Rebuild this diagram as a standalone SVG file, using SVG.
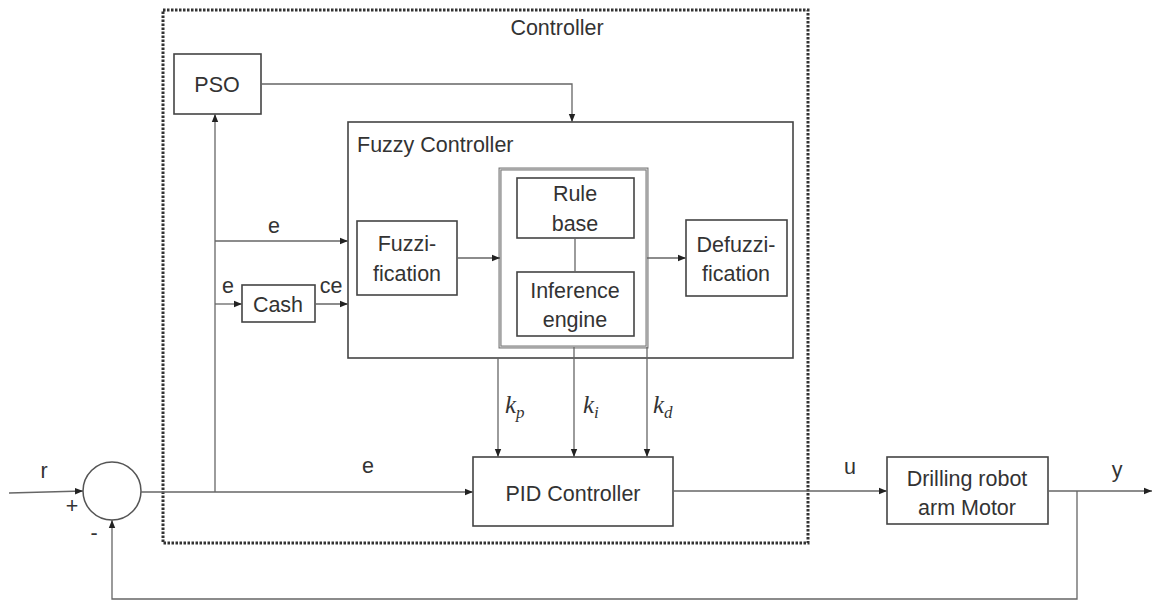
<svg xmlns="http://www.w3.org/2000/svg" width="1156" height="601" viewBox="0 0 1156 601">
<style>
text{font-family:"Liberation Sans",Arial,sans-serif;font-size:21.5px;fill:#333}
.c{text-anchor:middle}
.box{fill:#fff;stroke:#444;stroke-width:1.6}
.ln{fill:none;stroke:#666;stroke-width:1.3}
.m{font-family:"Liberation Serif","DejaVu Serif",serif;font-style:italic;font-size:25px}
.sub{font-size:17px}
</style>
<defs>
<marker id="ah" markerUnits="userSpaceOnUse" markerWidth="8" markerHeight="8" refX="8" refY="4" orient="auto">
<path d="M0,0.8 L8,4 L0,7.2 z" fill="#222"/>
</marker>
</defs>
<rect width="1156" height="601" fill="#fff"/>

<g id="controller">
<rect x="163" y="10" width="645" height="533" fill="none" stroke="#333" stroke-width="3" stroke-dasharray="2.5 1.5"/>
<text class="c" x="557" y="35">Controller</text>
</g>

<g id="pso">
<rect class="box" x="174" y="54" width="87" height="60"/>
<text class="c" x="217" y="92">PSO</text>
</g>

<g id="fuzzy-controller">
<rect class="box" x="348" y="122" width="445" height="236"/>
<text x="357" y="152">Fuzzy Controller</text>
</g>

<g id="fuzzification">
<rect class="box" x="357" y="221" width="100" height="74"/>
<text class="c" x="407" y="251">Fuzzi-</text>
<text class="c" x="407" y="281">fication</text>
</g>

<g id="inference-block">
<rect x="500" y="169" width="147" height="178" fill="none" stroke="#777" stroke-width="3"/>
<rect x="500" y="169" width="147" height="178" fill="none" stroke="#eee" stroke-width="0.8"/>
</g>

<g id="rule-base">
<rect class="box" x="517" y="178" width="117" height="60"/>
<text class="c" x="575" y="201">Rule</text>
<text class="c" x="575" y="231">base</text>
</g>

<g id="inference-engine">
<rect class="box" x="517" y="272" width="117" height="64"/>
<text class="c" x="575" y="298">Inference</text>
<text class="c" x="575" y="327">engine</text>
</g>

<g id="defuzzification">
<rect class="box" x="686" y="220" width="101" height="76"/>
<text class="c" x="736" y="252">Defuzzi-</text>
<text class="c" x="736" y="281">fication</text>
</g>

<g id="cash">
<rect class="box" x="242" y="285" width="73" height="37"/>
<text class="c" x="278" y="312">Cash</text>
</g>

<g id="pid">
<rect class="box" x="473" y="457" width="200" height="69"/>
<text class="c" x="573" y="501">PID Controller</text>
</g>

<g id="sum">
<circle cx="112" cy="491" r="29" fill="#fff" stroke="#555" stroke-width="1.5"/>
</g>

<g id="motor">
<rect class="box" x="887" y="457" width="161" height="67"/>
<text class="c" x="967" y="486">Drilling robot</text>
<text class="c" x="967" y="515">arm Motor</text>
</g>

<g id="connectors">
<path class="ln" d="M261,84 H572 V122" marker-end="url(#ah)"/>
<path class="ln" d="M215,492 V114" marker-end="url(#ah)"/>
<path class="ln" d="M215,241 H348" marker-end="url(#ah)"/>
<path class="ln" d="M215,304 H242" marker-end="url(#ah)"/>
<path class="ln" d="M315,304 H348" marker-end="url(#ah)"/>
<path class="ln" d="M457,258 H500" marker-end="url(#ah)"/>
<path class="ln" d="M575,238 V272"/>
<path class="ln" d="M647,258 H686" marker-end="url(#ah)"/>
<path class="ln" d="M498,358 V457" marker-end="url(#ah)"/>
<path class="ln" d="M574,347 V457" marker-end="url(#ah)"/>
<path class="ln" d="M647,347 V457" marker-end="url(#ah)"/>
<path class="ln" d="M9,493 L83,491" marker-end="url(#ah)"/>
<path class="ln" d="M141,492 H473" marker-end="url(#ah)"/>
<path class="ln" d="M673,491 H887" marker-end="url(#ah)"/>
<path class="ln" d="M1048,491 H1152" marker-end="url(#ah)"/>
<path class="ln" d="M1077,491 V599 H112 V520" marker-end="url(#ah)"/>
</g>

<g id="labels">
<text class="c" x="274" y="233">e</text>
<text class="c" x="228" y="293">e</text>
<text class="c" x="331" y="293">ce</text>
<text class="c" x="368" y="473">e</text>
<text class="c" x="44" y="478">r</text>
<text class="c" x="72" y="513" font-size="18">+</text>
<text class="c" x="94" y="540" font-size="18">-</text>
<text class="c" x="850" y="474">u</text>
<text class="c" x="1117" y="477">y</text>
<text class="m" x="505" y="413">k<tspan class="sub" dy="5">p</tspan></text>
<text class="m" x="583" y="413">k<tspan class="sub" dy="5">i</tspan></text>
<text class="m" x="653" y="413">k<tspan class="sub" dy="5">d</tspan></text>
</g>
</svg>
